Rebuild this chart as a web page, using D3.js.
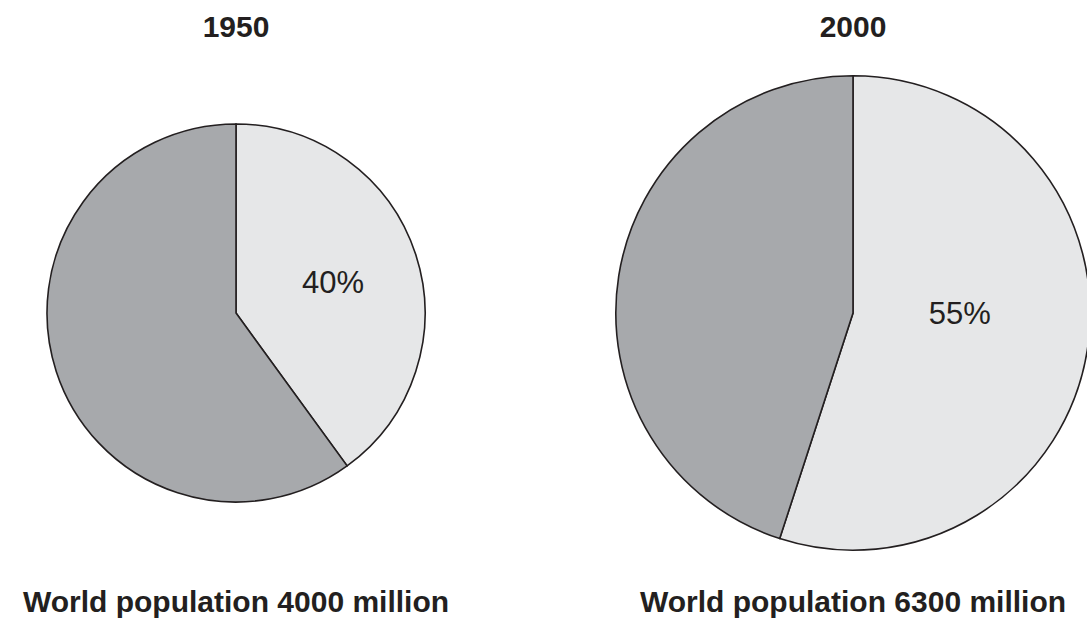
<!DOCTYPE html>
<html>
<head>
<meta charset="utf-8">
<script src="https://cdn.jsdelivr.net/npm/d3@7"></script>
<style>
  body { margin: 0; background: #fff; }
  svg { display: block; font-family: "Liberation Sans", Arial, Helvetica, sans-serif; }
</style>
</head>
<body>
<div id="chart"></div>
<script>
// Data
const years = ["1950", "2000"];
const population = [4000, 6300];       // million
const sharePct = [40, 55];             // light slice share
const captions = ["World population 4000 million", "World population 6300 million"];

const width = 1087, height = 634;
const centerY = 313;

const svg = d3.select("#chart")
    .append("svg")
    .attr("width", width)
    .attr("height", height);

// Pie centres and radius scale (area proportional to population)
const x = d3.scaleOrdinal().domain(years).range([236, 853]);
const r = d3.scaleSqrt().domain([0, 4000]).range([0, 189]);

const color = d3.scaleOrdinal()
    .domain(["share", "rest"])
    .range(["#e6e7e8", "#a7a9ac"]);

const pie = d3.pie().sort(null).value(d => d.value);

// label placement (angle from top in degrees, fraction of radius)
const labelPlace = [{ angle: 72, k: 0.54 }, { angle: 90, k: 0.45 }];

years.forEach((year, i) => {
    const cx = x(year);
    const radius = r(population[i]);
    const slices = pie([
        { key: "share", value: sharePct[i] },
        { key: "rest", value: 100 - sharePct[i] }
    ]);

    const g = svg.append("g").attr("transform", `translate(${cx},${centerY})`);

    g.selectAll("path")
        .data(slices)
        .join("path")
        .attr("d", d3.arc().innerRadius(0).outerRadius(radius))
        .attr("fill", d => color(d.data.key))
        .attr("stroke", "#231f20")
        .attr("stroke-width", 1.6)
        .attr("stroke-linejoin", "miter");

    // percentage label
    const a = labelPlace[i].angle * Math.PI / 180;
    const k = labelPlace[i].k * radius;
    g.append("text")
        .attr("x", k * Math.sin(a))
        .attr("y", -k * Math.cos(a))
        .attr("dy", "0.36em")
        .attr("text-anchor", "middle")
        .style("font-size", "31px")
        .style("fill", "#231f20")
        .text(sharePct[i] + "%");

    // year title
    svg.append("text")
        .attr("x", cx)
        .attr("y", 37)
        .attr("text-anchor", "middle")
        .style("font-size", "30px")
        .style("font-weight", "bold")
        .style("fill", "#231f20")
        .text(year);

    // caption
    svg.append("text")
        .attr("x", cx)
        .attr("y", 612)
        .attr("text-anchor", "middle")
        .style("font-size", "30px")
        .style("font-weight", "bold")
        .style("fill", "#231f20")
        .text(captions[i]);
});
</script>
</body>
</html>
